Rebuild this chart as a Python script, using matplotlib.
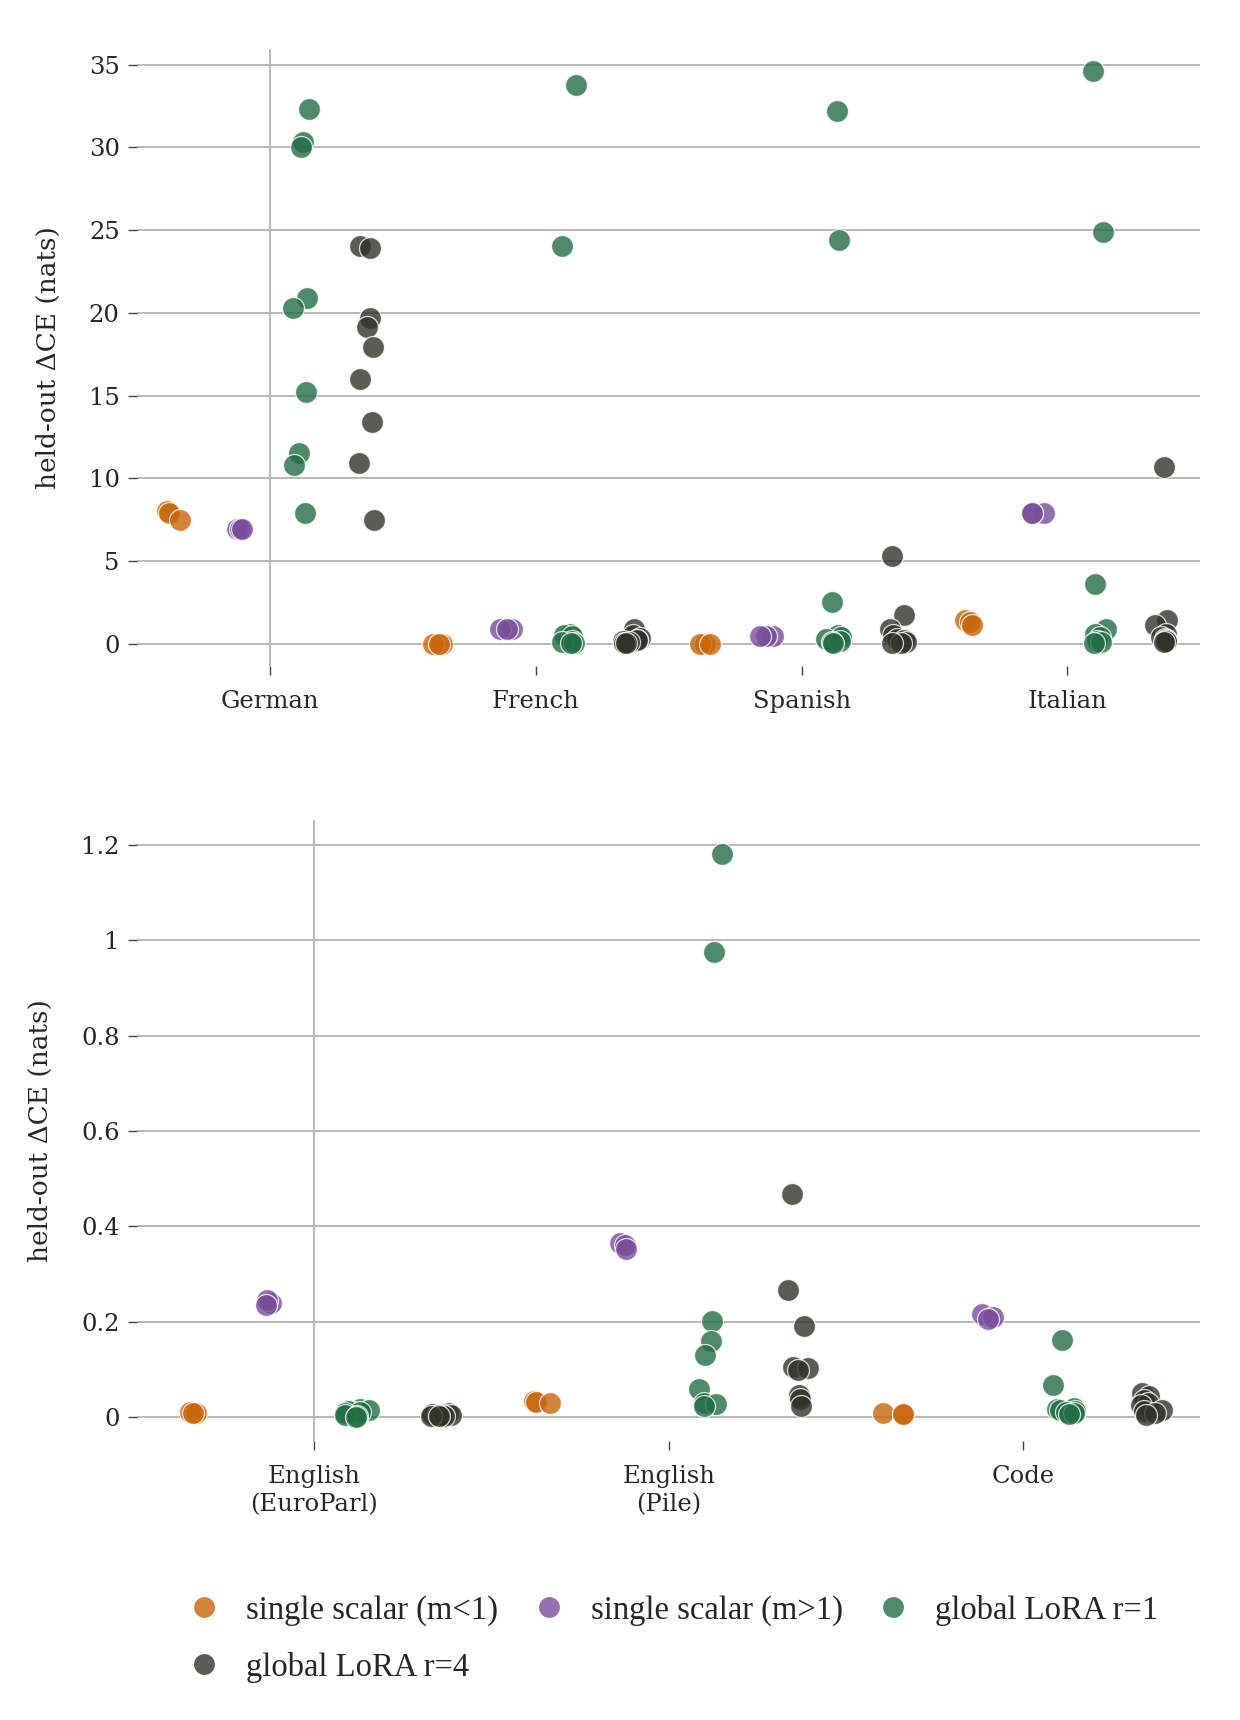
import numpy as np
import matplotlib
matplotlib.use("Agg")
import matplotlib.pyplot as plt
from matplotlib.lines import Line2D

# methods (hue groups) and their colours
methods = ["single scalar (m<1)", "single scalar (m>1)", "global LoRA r=1", "global LoRA r=4"]
colors = ["#c8660a", "#774d9a", "#236d46", "#31332a"]

# top panel: non-English languages
top_cats = ["German", "French", "Spanish", "Italian"]
top_m_lt1 = [[8.0, 7.9, 7.45], [0.0, 0.0, 0.0], [0.0, 0.0, 0.0], [1.4, 1.3, 1.15]]
top_m_gt1 = [[6.95, 6.95, 6.95], [0.9, 0.9, 0.88], [0.45, 0.44, 0.44], [7.9, 7.9, 7.9]]
top_lora1 = [
    [32.3, 30.35, 30.0, 20.9, 20.3, 15.2, 11.5, 10.8, 7.9],
    [33.8, 24.05, 0.6, 0.55, 0.45, 0.15, 0.1, 0.05, 0.02],
    [32.2, 24.4, 2.5, 0.5, 0.4, 0.3, 0.15, 0.1, 0.05],
    [34.6, 24.9, 3.6, 0.9, 0.6, 0.4, 0.15, 0.1, 0.05],
]
top_lora4 = [
    [24.05, 23.9, 19.7, 19.15, 17.96, 16.0, 13.4, 10.9, 7.5],
    [0.9, 0.5, 0.35, 0.25, 0.2, 0.15, 0.1, 0.05, 0.05],
    [5.3, 1.75, 0.9, 0.5, 0.3, 0.2, 0.1, 0.05, 0.05],
    [10.65, 1.45, 1.1, 0.6, 0.4, 0.3, 0.2, 0.15, 0.1],
]

# bottom panel: English and code
bot_cats = ["English\n(EuroParl)", "English\n(Pile)", "Code"]
bot_m_lt1 = [[0.01, 0.009, 0.009], [0.033, 0.031, 0.03], [0.008, 0.007, 0.007]]
bot_m_gt1 = [[0.24, 0.245, 0.235], [0.365, 0.36, 0.352], [0.217, 0.21, 0.205]]
bot_lora1 = [
    [0.018, 0.015, 0.013, 0.012, 0.01, 0.008, 0.005, 0.003, 0.001],
    [1.18, 0.975, 0.202, 0.16, 0.13, 0.06, 0.03, 0.027, 0.024],
    [0.161, 0.068, 0.02, 0.018, 0.015, 0.012, 0.01, 0.008, 0.006],
]
bot_lora4 = [
    [0.008, 0.007, 0.006, 0.005, 0.005, 0.004, 0.003, 0.003, 0.002],
    [0.467, 0.267, 0.192, 0.106, 0.103, 0.099, 0.046, 0.038, 0.024],
    [0.05, 0.045, 0.037, 0.03, 0.025, 0.015, 0.012, 0.008, 0.004],
]

plt.rcParams["font.family"] = "DejaVu Serif"
grid_col = "#b8b8b8"
text_col = "#262626"


def draw_panel(ax, cats, groups, ylim, seed):
    rng = np.random.default_rng(seed)
    for h, (per_cat, c) in enumerate(zip(groups, colors)):
        for i, vals in enumerate(per_cat):
            x = i + (h - 1.5) * 0.24 + rng.uniform(-0.035, 0.035, len(vals))
            ax.scatter(x, vals, s=250, color=c, alpha=0.8, edgecolor="white",
                       linewidth=0.9, zorder=3)
    ax.set_xlim(-0.5, len(cats) - 0.5)
    ax.set_ylim(*ylim)
    ax.set_xticks(range(len(cats)))
    ax.set_xticklabels(cats, linespacing=1.25)
    ax.yaxis.grid(True, color=grid_col, lw=1.4)
    ax.axvline(0, color=grid_col, lw=1.4, zorder=1)
    ax.set_axisbelow(True)
    for s in ax.spines.values():
        s.set_visible(False)
    ax.tick_params(direction="out", length=6.5, width=1.0, color="#444444",
                   labelsize=17.5, labelcolor=text_col)
    ax.tick_params(axis="x", pad=11)
    ax.tick_params(axis="y", pad=6)
    ax.set_ylabel("held-out ΔCE (nats)", fontsize=19, color=text_col, labelpad=20)


fig = plt.figure(figsize=(12.4, 17.2), dpi=100)
ax1 = fig.add_axes([0.1105, 0.6128, 0.8575, 0.3587])
ax2 = fig.add_axes([0.1105, 0.1622, 0.8575, 0.3611])

draw_panel(ax1, top_cats, [top_m_lt1, top_m_gt1, top_lora1, top_lora4], (-1.35, 35.95), 3)
ax1.set_yticks([0, 5, 10, 15, 20, 25, 30, 35])

draw_panel(ax2, bot_cats, [bot_m_lt1, bot_m_gt1, bot_lora1, bot_lora4], (-0.05, 1.252), 7)
ax2.set_yticks([0, 0.2, 0.4, 0.6, 0.8, 1.0, 1.2])
ax2.set_yticklabels(["0", "0.2", "0.4", "0.6", "0.8", "1", "1.2"])

handles = [Line2D([], [], ls="", marker="o", markersize=15, color=c, alpha=0.8,
                  markeredgewidth=0) for c in colors]
# reorder so matplotlib's column filling gives row-major layout
order = [0, 3, 1, 2]
fig.legend([handles[i] for i in order], [methods[i] for i in order],
           ncol=3, loc="upper left", bbox_to_anchor=(0.128, 0.0898), frameon=False,
           prop={"family": "Liberation Serif", "size": 23.5},
           handlelength=1.0, handletextpad=0.78, columnspacing=1.05,
           labelspacing=0.78, labelcolor=text_col)

fig.savefig("out.png", dpi=100)
